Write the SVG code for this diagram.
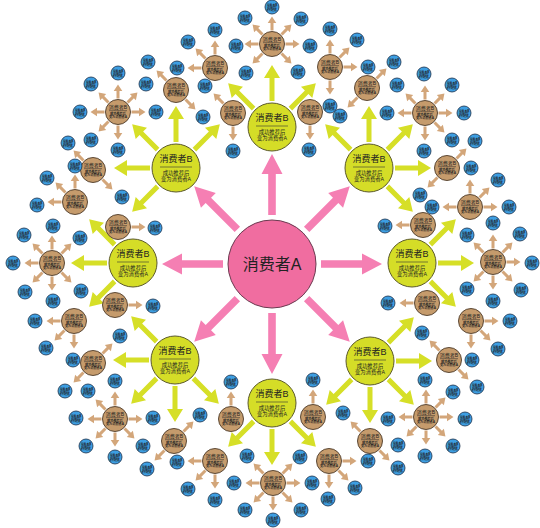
<svg xmlns="http://www.w3.org/2000/svg" xmlns:xlink="http://www.w3.org/1999/xlink" width="540" height="528" viewBox="0 0 540 528">
<style>
text{font-family:"Liberation Sans","Noto Sans CJK SC",sans-serif;text-anchor:middle;fill:#222}
.yc{fill:#d5dd27;stroke:#5c5a2c;stroke-width:1}
.yt{font-size:9px}
.ys{font-size:5.3px}
.yl{stroke:#333;stroke-width:.6}
</style>
<defs>
<path id="pa" fill="#f57fb3" d="M-3.8,-49 L-3.8,-90 L-10.5,-90 L0,-110 L10.5,-90 L3.8,-90 L3.8,-49 Z"/>
<path id="ya" fill="#d6df27" d="M-2.5,-26 L-2.5,-49 L-8,-49 L0,-62 L8,-49 L2.5,-49 L2.5,-26 Z"/>
<path id="ta" fill="#d3a67a" d="M-1.5,-13.5 L-1.5,-21 L-4.3,-21 L0,-27.5 L4.3,-21 L1.5,-21 L1.5,-13.5 Z"/>
<g id="nb">
<circle r="7" fill="#3d9ee2" stroke="#1b2f48" stroke-width="0.8"/>
<text y="-1.3" font-size="2.8" font-weight="bold" fill="#1a1a1a">消费者B</text>
<line x1="-4.5" x2="4.5" y1="-0.4" y2="-0.4" stroke="#222" stroke-width="0.35"/>
<text y="1.9" font-size="1.9" font-weight="bold" fill="#1a1a1a">成功推荐后</text>
<text y="4" font-size="1.9" font-weight="bold" fill="#1a1a1a">变为消费者A</text>
</g>
<g id="nbr">
<circle r="12.5" fill="#c59b6c" stroke="#4d3a28" stroke-width="0.9"/>
<text y="-3" font-size="5" fill="#1a1a1a">消费者B</text>
<line x1="-9" x2="9" y1="-1.3" y2="-1.3" stroke="#222" stroke-width="0.5"/>
<text y="2.6" font-size="3.2" font-weight="bold" fill="#1a1a1a">成功推荐后</text>
<text y="6.2" font-size="3.2" font-weight="bold" fill="#1a1a1a">变为消费者A</text>
</g>
</defs>
<rect width="540" height="528" fill="#fff"/>
<g id="connectors">
<g transform="translate(272,264)">
<use href="#pa"/><use href="#pa" transform="rotate(45)"/><use href="#pa" transform="rotate(90)"/><use href="#pa" transform="rotate(135)"/><use href="#pa" transform="rotate(180)"/><use href="#pa" transform="rotate(-135)"/><use href="#pa" transform="rotate(-90)"/><use href="#pa" transform="rotate(-45)"/>
</g>
<g transform="translate(272,127)"><use href="#ya" transform="rotate(-45)"/><use href="#ya"/><use href="#ya" transform="rotate(45)"/></g>
<g transform="translate(369,168)"><use href="#ya" transform="rotate(-45)"/><use href="#ya"/><use href="#ya" transform="rotate(45)"/><use href="#ya" transform="rotate(90)"/><use href="#ya" transform="rotate(135)"/></g>
<g transform="translate(412,263)"><use href="#ya" transform="rotate(45)"/><use href="#ya" transform="rotate(90)"/><use href="#ya" transform="rotate(135)"/></g>
<g transform="translate(370,361)"><use href="#ya" transform="rotate(45)"/><use href="#ya" transform="rotate(90)"/><use href="#ya" transform="rotate(135)"/><use href="#ya" transform="rotate(180)"/><use href="#ya" transform="rotate(-135)"/></g>
<g transform="translate(272,403)"><use href="#ya" transform="rotate(135)"/><use href="#ya" transform="rotate(180)"/><use href="#ya" transform="rotate(-135)"/></g>
<g transform="translate(175,360)"><use href="#ya" transform="rotate(-45)"/><use href="#ya" transform="rotate(-90)"/><use href="#ya" transform="rotate(-135)"/><use href="#ya" transform="rotate(180)"/><use href="#ya" transform="rotate(135)"/></g>
<g transform="translate(133,263)"><use href="#ya" transform="rotate(-45)"/><use href="#ya" transform="rotate(-90)"/><use href="#ya" transform="rotate(-135)"/></g>
<g transform="translate(176,168)"><use href="#ya"/><use href="#ya" transform="rotate(45)"/><use href="#ya" transform="rotate(-45)"/><use href="#ya" transform="rotate(-90)"/><use href="#ya" transform="rotate(-135)"/></g>
<g transform="translate(272,44)"><use href="#ta"/><use href="#ta" transform="rotate(-45)"/><use href="#ta" transform="rotate(45)"/><use href="#ta" transform="rotate(-90)"/><use href="#ta" transform="rotate(90)"/><use href="#ta" transform="rotate(-135)"/><use href="#ta" transform="rotate(135)"/></g>
<g transform="translate(215,68)"><use href="#ta"/><use href="#ta" transform="rotate(-45)"/><use href="#ta" transform="rotate(-90)"/></g>
<g transform="translate(176,90)"><use href="#ta" transform="rotate(-45)"/><use href="#ta" transform="rotate(135)"/></g>
<g transform="translate(233,113)"><use href="#ta" transform="rotate(-45)"/><use href="#ta" transform="rotate(180)"/></g>
<g transform="translate(118,112)"><use href="#ta"/><use href="#ta" transform="rotate(-45)"/><use href="#ta" transform="rotate(45)"/><use href="#ta" transform="rotate(-90)"/><use href="#ta" transform="rotate(90)"/><use href="#ta" transform="rotate(-135)"/><use href="#ta" transform="rotate(180)"/></g>
<g transform="translate(93,170)"><use href="#ta" transform="rotate(-45)"/><use href="#ta" transform="rotate(135)"/></g>
<g transform="translate(75,202)"><use href="#ta"/><use href="#ta" transform="rotate(-45)"/><use href="#ta" transform="rotate(-90)"/></g>
<g transform="translate(118,227)"><use href="#ta" transform="rotate(90)"/></g>
<g transform="translate(52,263)"><use href="#ta"/><use href="#ta" transform="rotate(-45)"/><use href="#ta" transform="rotate(45)"/><use href="#ta" transform="rotate(-90)"/><use href="#ta" transform="rotate(-135)"/><use href="#ta" transform="rotate(180)"/><use href="#ta" transform="rotate(135)"/></g>
<g transform="translate(330,67)"><use href="#ta"/><use href="#ta" transform="rotate(45)"/><use href="#ta" transform="rotate(90)"/><use href="#ta" transform="rotate(180)"/></g>
<g transform="translate(310,112)"><use href="#ta" transform="rotate(180)"/></g>
<g transform="translate(367,88)"><use href="#ta" transform="rotate(45)"/><use href="#ta" transform="rotate(-135)"/></g>
<g transform="translate(425,113)"><use href="#ta"/><use href="#ta" transform="rotate(-45)"/><use href="#ta" transform="rotate(45)"/><use href="#ta" transform="rotate(-90)"/><use href="#ta" transform="rotate(90)"/><use href="#ta" transform="rotate(180)"/><use href="#ta" transform="rotate(135)"/></g>
<g transform="translate(447,168)"><use href="#ta" transform="rotate(45)"/><use href="#ta" transform="rotate(-135)"/></g>
<g transform="translate(423,225)"><use href="#ta" transform="rotate(-90)"/></g>
<g transform="translate(470,207)"><use href="#ta"/><use href="#ta" transform="rotate(45)"/><use href="#ta" transform="rotate(-90)"/><use href="#ta" transform="rotate(90)"/></g>
<g transform="translate(493,262)"><use href="#ta"/><use href="#ta" transform="rotate(-45)"/><use href="#ta" transform="rotate(45)"/><use href="#ta" transform="rotate(90)"/><use href="#ta" transform="rotate(-135)"/><use href="#ta" transform="rotate(180)"/><use href="#ta" transform="rotate(135)"/></g>
<g transform="translate(427,303)"><use href="#ta" transform="rotate(-90)"/></g>
<g transform="translate(471,321)"><use href="#ta" transform="rotate(90)"/><use href="#ta" transform="rotate(180)"/><use href="#ta" transform="rotate(135)"/></g>
<g transform="translate(449,360)"><use href="#ta" transform="rotate(-45)"/><use href="#ta" transform="rotate(135)"/></g>
<g transform="translate(426,417)"><use href="#ta"/><use href="#ta" transform="rotate(45)"/><use href="#ta" transform="rotate(-90)"/><use href="#ta" transform="rotate(90)"/><use href="#ta" transform="rotate(-135)"/><use href="#ta" transform="rotate(180)"/><use href="#ta" transform="rotate(135)"/></g>
<g transform="translate(370,441)"><use href="#ta" transform="rotate(-45)"/><use href="#ta" transform="rotate(135)"/></g>
<g transform="translate(313,417)"><use href="#ta"/></g>
<g transform="translate(329,461)"><use href="#ta" transform="rotate(90)"/><use href="#ta" transform="rotate(135)"/><use href="#ta" transform="rotate(180)"/></g>
<g transform="translate(273,483)"><use href="#ta" transform="rotate(-45)"/><use href="#ta" transform="rotate(45)"/><use href="#ta" transform="rotate(-90)"/><use href="#ta" transform="rotate(90)"/><use href="#ta" transform="rotate(-135)"/><use href="#ta" transform="rotate(135)"/><use href="#ta" transform="rotate(180)"/></g>
<g transform="translate(115,305)"><use href="#ta" transform="rotate(90)"/></g>
<g transform="translate(74,321)"><use href="#ta" transform="rotate(-90)"/><use href="#ta" transform="rotate(-135)"/><use href="#ta" transform="rotate(180)"/></g>
<g transform="translate(93,363)"><use href="#ta" transform="rotate(45)"/><use href="#ta" transform="rotate(-135)"/></g>
<g transform="translate(115,419)"><use href="#ta"/><use href="#ta" transform="rotate(-45)"/><use href="#ta" transform="rotate(-90)"/><use href="#ta" transform="rotate(90)"/><use href="#ta" transform="rotate(-135)"/><use href="#ta" transform="rotate(180)"/><use href="#ta" transform="rotate(135)"/></g>
<g transform="translate(174,441)"><use href="#ta" transform="rotate(45)"/><use href="#ta" transform="rotate(-135)"/></g>
<g transform="translate(215,461)"><use href="#ta" transform="rotate(-90)"/><use href="#ta" transform="rotate(-135)"/><use href="#ta" transform="rotate(180)"/></g>
<g transform="translate(231,419)"><use href="#ta"/></g>
</g>
<g id="nodes">
<g id="center"><circle cx="272" cy="264" r="44" fill="#f06da0" stroke="#6a3a50" stroke-width="1"/><text x="272" y="269.5" font-size="16">消费者A</text></g>
<g id="yT"><circle cx="272" cy="127" r="24" class="yc"/><text x="272" y="121" class="yt">消费者B</text><line x1="256" x2="288" y1="126" y2="126" class="yl"/><text x="272" y="134" class="ys">成功推荐后</text><text x="272" y="140" class="ys">变为消费者A</text></g>
<g id="yTR"><circle cx="369" cy="168" r="24" class="yc"/><text x="369" y="162" class="yt">消费者B</text><line x1="353" x2="385" y1="167" y2="167" class="yl"/><text x="369" y="175" class="ys">成功推荐后</text><text x="369" y="181" class="ys">变为消费者A</text></g>
<g id="yR"><circle cx="412" cy="263" r="24" class="yc"/><text x="412" y="257" class="yt">消费者B</text><line x1="396" x2="428" y1="262" y2="262" class="yl"/><text x="412" y="270" class="ys">成功推荐后</text><text x="412" y="276" class="ys">变为消费者A</text></g>
<g id="yBR"><circle cx="370" cy="361" r="24" class="yc"/><text x="370" y="355" class="yt">消费者B</text><line x1="354" x2="386" y1="360" y2="360" class="yl"/><text x="370" y="368" class="ys">成功推荐后</text><text x="370" y="374" class="ys">变为消费者A</text></g>
<g id="yB"><circle cx="272" cy="403" r="24" class="yc"/><text x="272" y="397" class="yt">消费者B</text><line x1="256" x2="288" y1="402" y2="402" class="yl"/><text x="272" y="410" class="ys">成功推荐后</text><text x="272" y="416" class="ys">变为消费者A</text></g>
<g id="yBL"><circle cx="175" cy="360" r="24" class="yc"/><text x="175" y="354" class="yt">消费者B</text><line x1="159" x2="191" y1="359" y2="359" class="yl"/><text x="175" y="367" class="ys">成功推荐后</text><text x="175" y="373" class="ys">变为消费者A</text></g>
<g id="yL"><circle cx="133" cy="263" r="24" class="yc"/><text x="133" y="257" class="yt">消费者B</text><line x1="117" x2="149" y1="262" y2="262" class="yl"/><text x="133" y="270" class="ys">成功推荐后</text><text x="133" y="276" class="ys">变为消费者A</text></g>
<g id="yTL"><circle cx="176" cy="168" r="24" class="yc"/><text x="176" y="162" class="yt">消费者B</text><line x1="160" x2="192" y1="167" y2="167" class="yl"/><text x="176" y="175" class="ys">成功推荐后</text><text x="176" y="181" class="ys">变为消费者A</text></g>
<g id="A1"><use href="#nbr" x="272" y="44"/></g>
<g id="A2"><use href="#nbr" x="215" y="68"/></g>
<g id="A3"><use href="#nbr" x="176" y="90"/></g>
<g id="A4"><use href="#nbr" x="233" y="113"/></g>
<g id="A5"><use href="#nbr" x="118" y="112"/></g>
<g id="A6"><use href="#nbr" x="93" y="170"/></g>
<g id="A7"><use href="#nbr" x="75" y="202"/></g>
<g id="A8"><use href="#nbr" x="118" y="227"/></g>
<g id="A9"><use href="#nbr" x="52" y="263"/></g>
<g id="B2"><use href="#nbr" x="330" y="67"/></g>
<g id="B3"><use href="#nbr" x="310" y="112"/></g>
<g id="B4"><use href="#nbr" x="367" y="88"/></g>
<g id="B5"><use href="#nbr" x="425" y="113"/></g>
<g id="B6"><use href="#nbr" x="447" y="168"/></g>
<g id="B7"><use href="#nbr" x="423" y="225"/></g>
<g id="B8"><use href="#nbr" x="470" y="207"/></g>
<g id="B9"><use href="#nbr" x="493" y="262"/></g>
<g id="C2"><use href="#nbr" x="427" y="303"/></g>
<g id="C3"><use href="#nbr" x="471" y="321"/></g>
<g id="C4"><use href="#nbr" x="449" y="360"/></g>
<g id="C5"><use href="#nbr" x="426" y="417"/></g>
<g id="C6"><use href="#nbr" x="370" y="441"/></g>
<g id="C7"><use href="#nbr" x="313" y="417"/></g>
<g id="C8"><use href="#nbr" x="329" y="461"/></g>
<g id="C9"><use href="#nbr" x="273" y="483"/></g>
<g id="D2"><use href="#nbr" x="115" y="305"/></g>
<g id="D3"><use href="#nbr" x="74" y="321"/></g>
<g id="D4"><use href="#nbr" x="93" y="363"/></g>
<g id="D5"><use href="#nbr" x="115" y="419"/></g>
<g id="D6"><use href="#nbr" x="174" y="441"/></g>
<g id="D7"><use href="#nbr" x="215" y="461"/></g>
<g id="D8"><use href="#nbr" x="231" y="419"/></g>
<g id="A1u"><use href="#nb" x="272" y="7"/></g>
<g id="A1ul"><use href="#nb" x="245" y="18"/></g>
<g id="A1ur"><use href="#nb" x="301" y="19"/></g>
<g id="A1l"><use href="#nb" x="236" y="46"/></g>
<g id="A1r"><use href="#nb" x="310" y="46"/></g>
<g id="A1dl"><use href="#nb" x="246" y="73"/></g>
<g id="A1dr"><use href="#nb" x="298" y="72"/></g>
<g id="A2u"><use href="#nb" x="215" y="30"/></g>
<g id="A2ul"><use href="#nb" x="188" y="42"/></g>
<g id="A2l"><use href="#nb" x="177" y="68"/></g>
<g id="A3ul"><use href="#nb" x="148" y="62"/></g>
<g id="A3dr"><use href="#nb" x="203" y="117"/></g>
<g id="A4ul"><use href="#nb" x="205" y="86"/></g>
<g id="A4d"><use href="#nb" x="233" y="151"/></g>
<g id="A5u"><use href="#nb" x="118" y="73"/></g>
<g id="A5ul"><use href="#nb" x="91" y="84"/></g>
<g id="A5ur"><use href="#nb" x="146" y="84"/></g>
<g id="A5l"><use href="#nb" x="80" y="112"/></g>
<g id="A5r"><use href="#nb" x="156" y="112"/></g>
<g id="A5dl"><use href="#nb" x="91" y="140"/></g>
<g id="A5d"><use href="#nb" x="118" y="150"/></g>
<g id="A6ul"><use href="#nb" x="68" y="143"/></g>
<g id="A6dr"><use href="#nb" x="122" y="197"/></g>
<g id="A7u"><use href="#nb" x="75" y="166"/></g>
<g id="A7ul"><use href="#nb" x="47" y="178"/></g>
<g id="A7l"><use href="#nb" x="37" y="205"/></g>
<g id="A8r"><use href="#nb" x="155" y="228"/></g>
<g id="A9u"><use href="#nb" x="53" y="226"/></g>
<g id="A9ul"><use href="#nb" x="24" y="235"/></g>
<g id="A9ur"><use href="#nb" x="80" y="238"/></g>
<g id="A9l"><use href="#nb" x="13" y="263"/></g>
<g id="A9dl"><use href="#nb" x="25" y="292"/></g>
<g id="A9d"><use href="#nb" x="53" y="301"/></g>
<g id="A9dr"><use href="#nb" x="81" y="291"/></g>
<g id="B2u"><use href="#nb" x="330" y="29"/></g>
<g id="B2ur"><use href="#nb" x="357" y="40"/></g>
<g id="B2r"><use href="#nb" x="368" y="67"/></g>
<g id="B2d"><use href="#nb" x="330" y="106"/></g>
<g id="B3d"><use href="#nb" x="309" y="150"/></g>
<g id="B4ur"><use href="#nb" x="394" y="62"/></g>
<g id="B4dl"><use href="#nb" x="340" y="116"/></g>
<g id="B5ul"><use href="#nb" x="397" y="85"/></g>
<g id="B5u"><use href="#nb" x="424" y="74"/></g>
<g id="B5ur"><use href="#nb" x="452" y="85"/></g>
<g id="B5l"><use href="#nb" x="387" y="113"/></g>
<g id="B5r"><use href="#nb" x="464" y="113"/></g>
<g id="B5d"><use href="#nb" x="424" y="151"/></g>
<g id="B5dr"><use href="#nb" x="452" y="140"/></g>
<g id="B6ur"><use href="#nb" x="475" y="141"/></g>
<g id="B6dl"><use href="#nb" x="420" y="195"/></g>
<g id="B7l"><use href="#nb" x="385" y="226"/></g>
<g id="B8u"><use href="#nb" x="471" y="168"/></g>
<g id="B8ur"><use href="#nb" x="498" y="180"/></g>
<g id="B8l"><use href="#nb" x="432" y="207"/></g>
<g id="B8r"><use href="#nb" x="509" y="207"/></g>
<g id="B9u"><use href="#nb" x="493" y="223"/></g>
<g id="B9ul"><use href="#nb" x="467" y="235"/></g>
<g id="B9ur"><use href="#nb" x="520" y="234"/></g>
<g id="B9r"><use href="#nb" x="532" y="263"/></g>
<g id="B9dl"><use href="#nb" x="467" y="289"/></g>
<g id="B9d"><use href="#nb" x="493" y="301"/></g>
<g id="B9dr"><use href="#nb" x="521" y="290"/></g>
<g id="C2l"><use href="#nb" x="388" y="303"/></g>
<g id="C3r"><use href="#nb" x="510" y="321"/></g>
<g id="C3d"><use href="#nb" x="472" y="360"/></g>
<g id="C3dr"><use href="#nb" x="498" y="349"/></g>
<g id="C4ul"><use href="#nb" x="422" y="333"/></g>
<g id="C4dr"><use href="#nb" x="477" y="387"/></g>
<g id="C5u"><use href="#nb" x="425" y="380"/></g>
<g id="C5ur"><use href="#nb" x="453" y="392"/></g>
<g id="C5l"><use href="#nb" x="388" y="419"/></g>
<g id="C5r"><use href="#nb" x="465" y="419"/></g>
<g id="C5dl"><use href="#nb" x="398" y="445"/></g>
<g id="C5d"><use href="#nb" x="425" y="456"/></g>
<g id="C5dr"><use href="#nb" x="453" y="446"/></g>
<g id="C6ul"><use href="#nb" x="343" y="413"/></g>
<g id="C6dr"><use href="#nb" x="398" y="468"/></g>
<g id="C7u"><use href="#nb" x="313" y="380"/></g>
<g id="C8r"><use href="#nb" x="368" y="461"/></g>
<g id="C8dr"><use href="#nb" x="355" y="488"/></g>
<g id="C8d"><use href="#nb" x="328" y="499"/></g>
<g id="C9ul"><use href="#nb" x="247" y="456"/></g>
<g id="C9ur"><use href="#nb" x="300" y="457"/></g>
<g id="C9l"><use href="#nb" x="234" y="483"/></g>
<g id="C9r"><use href="#nb" x="312" y="483"/></g>
<g id="C9dl"><use href="#nb" x="245" y="510"/></g>
<g id="C9dr"><use href="#nb" x="301" y="510"/></g>
<g id="C9d"><use href="#nb" x="273" y="520"/></g>
<g id="D2r"><use href="#nb" x="153" y="306"/></g>
<g id="D3l"><use href="#nb" x="35" y="321"/></g>
<g id="D3dl"><use href="#nb" x="46" y="348"/></g>
<g id="D3d"><use href="#nb" x="73" y="360"/></g>
<g id="D4ur"><use href="#nb" x="120" y="336"/></g>
<g id="D4dl"><use href="#nb" x="65" y="391"/></g>
<g id="D5u"><use href="#nb" x="115" y="381"/></g>
<g id="D5ul"><use href="#nb" x="88" y="391"/></g>
<g id="D5l"><use href="#nb" x="76" y="418"/></g>
<g id="D5r"><use href="#nb" x="153" y="418"/></g>
<g id="D5dl"><use href="#nb" x="86" y="446"/></g>
<g id="D5d"><use href="#nb" x="115" y="457"/></g>
<g id="D5dr"><use href="#nb" x="143" y="446"/></g>
<g id="D6ur"><use href="#nb" x="200" y="415"/></g>
<g id="D6dl"><use href="#nb" x="147" y="469"/></g>
<g id="D7l"><use href="#nb" x="177" y="462"/></g>
<g id="D7dl"><use href="#nb" x="188" y="489"/></g>
<g id="D7d"><use href="#nb" x="215" y="500"/></g>
<g id="D8u"><use href="#nb" x="231" y="382"/></g>
</g>
</svg>
